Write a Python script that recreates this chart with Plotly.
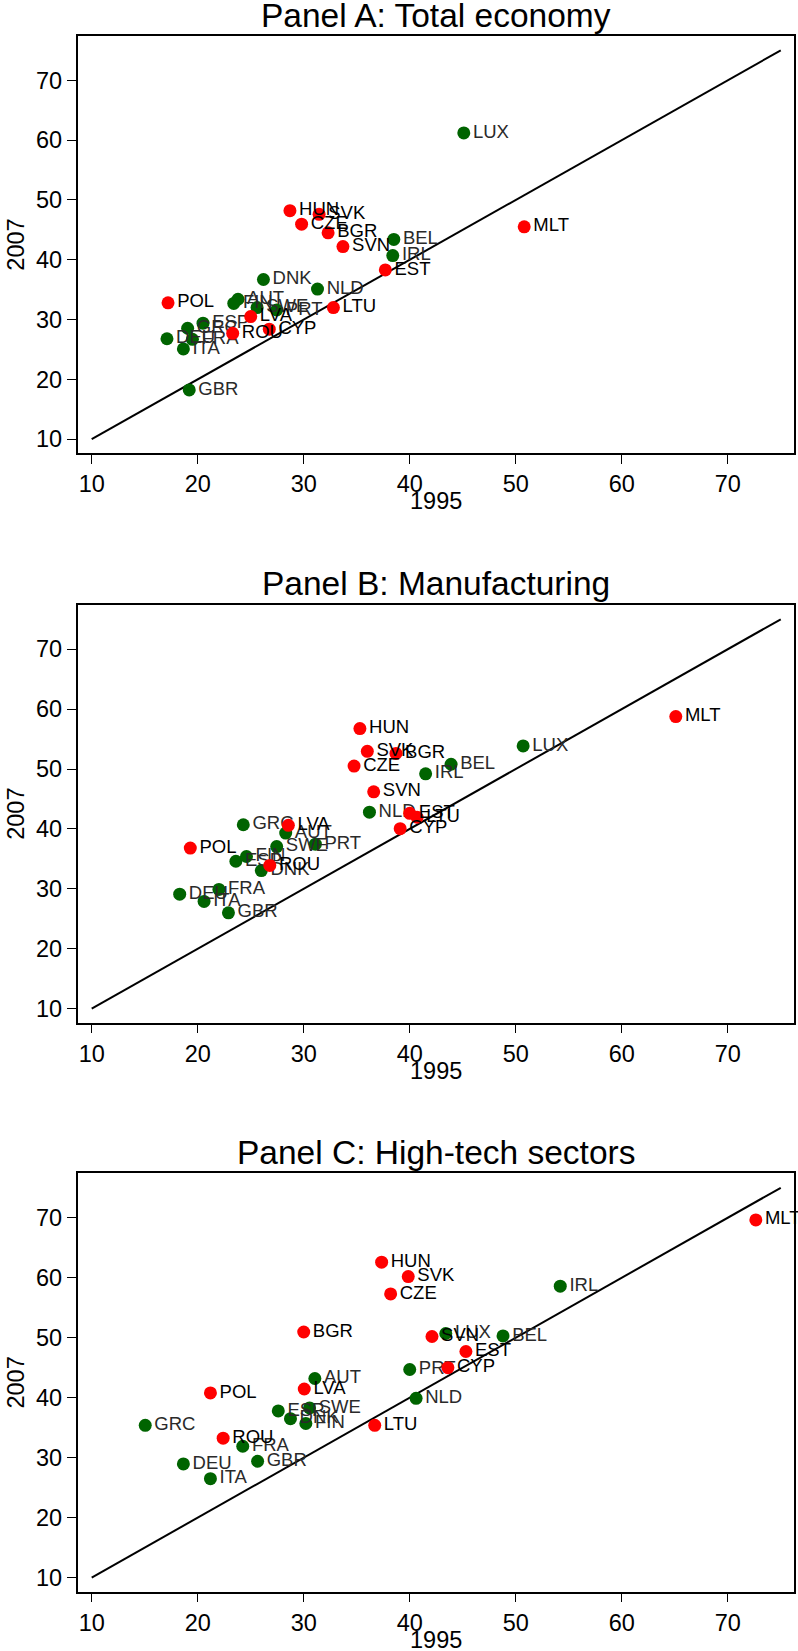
import plotly.graph_objects as go

# ---------------- data ----------------
red_names = ["BGR", "CYP", "CZE", "EST", "HUN", "LTU", "LVA", "MLT", "POL", "ROU", "SVK", "SVN"]
green_names = ["AUT", "BEL", "DEU", "DNK", "ESP", "FIN", "FRA", "GBR", "GRC", "IRL", "ITA", "LUX", "NLD", "PRT", "SWE"]

# Panel A: Total economy
a_red_1995 = [32.3, 26.75, 29.8, 37.7, 28.7, 32.8, 25.0, 50.8, 17.2, 23.3, 31.45, 33.7]
a_red_2007 = [44.5, 28.4, 45.95, 38.3, 48.2, 32.0, 30.5, 45.5, 32.8, 27.7, 47.6, 42.2]
a_green_1995 = [23.8, 38.5, 17.1, 26.2, 20.5, 23.4, 19.5, 19.2, 19.05, 38.4, 18.65, 45.1, 31.3, 27.45, 25.6]
a_green_2007 = [33.4, 43.4, 26.8, 36.7, 29.4, 32.7, 26.7, 18.25, 28.55, 40.7, 25.1, 61.2, 35.1, 31.6, 32.0]

# Panel B: Manufacturing
b_red_1995 = [38.7, 39.1, 34.75, 40.0, 35.3, 40.7, 28.55, 65.1, 19.3, 26.8, 36.0, 36.6]
b_red_2007 = [52.6, 40.05, 50.5, 42.6, 56.75, 41.95, 40.6, 58.75, 36.8, 33.9, 52.95, 46.2]
b_green_1995 = [28.3, 43.9, 18.3, 26.0, 23.6, 24.6, 22.0, 22.9, 24.3, 41.5, 20.6, 50.7, 36.2, 31.1, 27.45]
b_green_2007 = [39.3, 50.8, 29.1, 33.05, 34.6, 35.4, 29.9, 26.0, 40.7, 49.2, 27.9, 53.85, 42.8, 37.45, 37.05]

# Panel C: High-tech sectors
c_red_1995 = [30.0, 43.6, 38.2, 45.3, 37.35, 36.7, 30.05, 72.65, 21.2, 22.4, 39.86, 42.1]
c_red_2007 = [50.95, 45.0, 57.3, 47.7, 62.6, 35.4, 41.45, 69.65, 40.8, 33.25, 60.2, 50.2]
c_green_1995 = [31.05, 48.8, 18.65, 28.75, 27.6, 30.2, 24.25, 25.65, 15.05, 54.2, 21.2, 43.4, 40.6, 40.0, 30.55]
c_green_2007 = [43.2, 50.3, 28.95, 36.5, 37.8, 35.7, 31.9, 29.4, 35.4, 58.6, 26.5, 50.7, 39.9, 44.7, 38.3]

panel_titles = ["Panel A: Total economy", "Panel B: Manufacturing", "Panel C: High-tech sectors"]
tick_vals = [10, 20, 30, 40, 50, 60, 70]
diag = [10, 75]
x_title = "1995"
y_title = "2007"

panels = [
    (a_red_1995, a_red_2007, a_green_1995, a_green_2007),
    (b_red_1995, b_red_2007, b_green_1995, b_green_2007),
    (c_red_1995, c_red_2007, c_green_1995, c_green_2007),
]

# ---------------- layout geometry (pixels) ----------------
W, H = 798, 1651
FONT = "Liberation Sans"
frame_left, frame_right = 77.5, 794.0
frames_y = [(36.0, 453.3), (604.9, 1022.7), (1173.4, 1591.7)]
RED = "#ff0000"
GREEN = "#006400"
LABEL_SIZE = 18.5
TICK_SIZE = 23.5

fig = go.Figure()
annotations = []
layout_axes = {}

for i, (rx, ry, gx, gy) in enumerate(panels):
    n = "" if i == 0 else str(i + 1)
    xa, ya = "x" + n, "y" + n
    top, bot = frames_y[i]

    fig.add_trace(go.Scatter(
        x=diag, y=diag, mode="lines", xaxis=xa, yaxis=ya,
        line=dict(color="black", width=2), showlegend=False, hoverinfo="skip"))
    fig.add_trace(go.Scatter(
        x=gx, y=gy, text=green_names, mode="markers+text", textposition="middle right",
        xaxis=xa, yaxis=ya, marker=dict(color=GREEN, size=13),
        textfont=dict(family=FONT, size=LABEL_SIZE, color="#2a2a2a"),
        cliponaxis=False, showlegend=False))
    fig.add_trace(go.Scatter(
        x=rx, y=ry, text=red_names, mode="markers+text", textposition="middle right",
        xaxis=xa, yaxis=ya, marker=dict(color=RED, size=13),
        textfont=dict(family=FONT, size=LABEL_SIZE, color="black"),
        cliponaxis=False, showlegend=False))

    common = dict(
        showgrid=False, zeroline=False, showline=True, mirror=True,
        linecolor="black", linewidth=1.5, ticks="outside", ticklen=9,
        tickwidth=1.2, tickcolor="black", tickvals=tick_vals,
        tickfont=dict(family=FONT, size=TICK_SIZE, color="black"))
    layout_axes["xaxis" + n] = dict(
        common, domain=[frame_left / W, frame_right / W], range=[8.66, 76.25],
        anchor=ya)
    layout_axes["yaxis" + n] = dict(
        common, domain=[1 - bot / H, 1 - top / H], range=[7.65, 77.4],
        anchor=xa)

    # panel title
    annotations.append(dict(
        text=panel_titles[i], xref="paper", yref="paper",
        x=(frame_left + frame_right) / 2 / W, y=1 - (top - 21) / H,
        xanchor="center", yanchor="middle", showarrow=False,
        font=dict(family=FONT, size=33.5, color="black")))
    # x axis title
    annotations.append(dict(
        text=x_title, xref="paper", yref="paper",
        x=(frame_left + frame_right) / 2 / W, y=1 - (bot + 48) / H,
        xanchor="center", yanchor="middle", showarrow=False,
        font=dict(family=FONT, size=TICK_SIZE, color="black")))
    # y axis title
    annotations.append(dict(
        text=y_title, xref="paper", yref="paper", textangle=-90,
        x=16 / W, y=1 - (top + bot) / 2 / H,
        xanchor="center", yanchor="middle", showarrow=False,
        font=dict(family=FONT, size=TICK_SIZE, color="black")))

fig.update_layout(
    width=W, height=H, margin=dict(l=0, r=0, t=0, b=0),
    paper_bgcolor="white", plot_bgcolor="white",
    annotations=annotations, showlegend=False,
    font=dict(family=FONT, color="black"),
    **layout_axes)

fig.write_html(
    "out.html",
    config={"displayModeBar": False},
    post_script="document.body.style.margin='0';document.body.style.overflow='hidden';")
